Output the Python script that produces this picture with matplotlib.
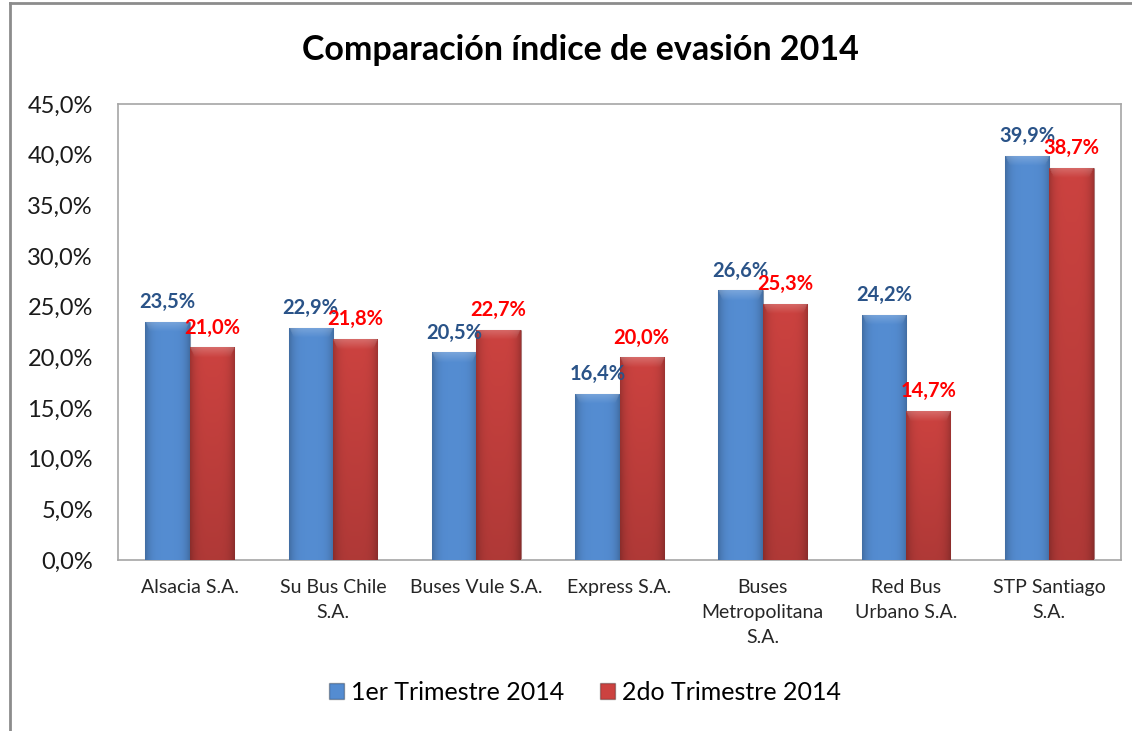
import numpy as np
import matplotlib
matplotlib.use("Agg")
import matplotlib.pyplot as plt
from matplotlib.lines import Line2D
from matplotlib.patches import Patch

categories = ["Alsacia S.A.", "Su Bus Chile\nS.A.", "Buses Vule S.A.", "Express S.A.",
              "Buses\nMetropolitana\nS.A.", "Red Bus\nUrbano S.A.", "STP Santiago\nS.A."]
q1 = [23.5, 22.9, 20.5, 16.4, 26.6, 24.2, 39.9]
q2 = [21.0, 21.8, 22.7, 20.0, 25.3, 14.7, 38.7]
series_names = ["1er Trimestre 2014", "2do Trimestre 2014"]
yticks = [0, 5, 10, 15, 20, 25, 30, 35, 40, 45]
title = "Comparación índice de evasión 2014"

plt.rcParams['font.family'] = ['Lato', 'DejaVu Sans']

W, H = 1132, 731
fig = plt.figure(figsize=(W / 100, H / 100), dpi=100)
ax = fig.add_axes([118 / W, 1 - 560 / H, (1121 - 118) / W, (560 - 104) / H])

x = np.arange(len(categories))
bw = 0.31
base_cols = [np.array([0.33, 0.55, 0.82]), np.array([0.80, 0.26, 0.25])]
bars1 = ax.bar(x - bw / 2, q1, bw, color=base_cols[0], zorder=2)
bars2 = ax.bar(x + bw / 2, q2, bw, color=base_cols[1], zorder=2)

ax.set_xlim(-0.5, len(categories) - 0.5)
ax.set_ylim(0, 45)


def shade(bars, col, vertical_dark):
    for b in bars:
        x0, y0 = b.get_x(), b.get_y()
        w, h = b.get_width(), b.get_height()
        nx, ny = 60, 400
        u = np.linspace(0, 1, nx)[None, :]
        v = np.linspace(0, 1, ny)[:, None]  # 0 bottom, 1 top
        prof = 1.0 - 0.22 * (np.abs(u - 0.5) * 2) ** 4
        fac = prof * np.ones((ny, 1))
        if vertical_dark:
            fac = fac * (0.86 + 0.14 * v)
        img = np.ones((ny, nx, 3)) * col * fac[..., None]
        dist_top = (1 - v) * h
        dist_side = np.minimum(u, 1 - u) * w / 0.031
        bevel = np.clip(1 - dist_top / 1.0, 0, 1) * (dist_side > dist_top)
        light = 0.22 * bevel
        img = img + light[..., None] * (1 - img)
        img = np.clip(img, 0, 1)
        im = ax.imshow(img, extent=(x0, x0 + w, y0, y0 + h), origin='lower',
                       aspect='auto', zorder=3, interpolation='bilinear')
        im.set_clip_path(b)
        b.set_edgecolor((0, 0, 0, 0.25))
        b.set_linewidth(0.8)


shade(bars1, base_cols[0], False)
shade(bars2, base_cols[1], True)
ax.set_xlim(-0.5, len(categories) - 0.5)
ax.set_ylim(0, 45)


def fmt(v):
    return f"{v:.1f}%".replace(".", ",")


for b, v in zip(bars1, q1):
    ax.annotate(fmt(v), (b.get_x() + b.get_width() / 2, v), xytext=(0, 7),
                textcoords='offset points', ha='center', va='bottom',
                fontsize=14.5, fontweight='bold', color='#2A5388', zorder=5)
for b, v in zip(bars2, q2):
    ax.annotate(fmt(v), (b.get_x() + b.get_width() / 2, v), xytext=(0, 7),
                textcoords='offset points', ha='center', va='bottom',
                fontsize=14.5, fontweight='bold', color='#FF0000', zorder=5)

ax.set_yticks(yticks)
ax.set_yticklabels([f"{t:.1f}%".replace(".", ",") for t in yticks], fontsize=17, color='#1a1a1a')
ax.set_xticks(x)
ax.set_xticklabels(categories, fontsize=14, color='#262626', linespacing=1.55, va='top')
ax.tick_params(axis='both', length=0)
ax.tick_params(axis='y', pad=18)
ax.tick_params(axis='x', pad=14)
for s in ax.spines.values():
    s.set_color('#a6a6a6')
    s.set_linewidth(1.2)

fig.text(580 / W, 1 - 50 / H, title, ha='center', va='center', fontsize=24.5,
         fontweight='bold', color='black')

handles = [Patch(facecolor=base_cols[0], edgecolor=(0, 0, 0, 0.3)),
           Patch(facecolor=base_cols[1], edgecolor=(0, 0, 0, 0.3))]
fig.legend(handles, series_names, loc='center', bbox_to_anchor=(585 / W, 1 - 692 / H),
           ncol=2, frameon=False, fontsize=18, handlelength=0.6, handleheight=0.6,
           handletextpad=0.3, columnspacing=1.4)

fig.add_artist(Line2D([10 / W, 10 / W], [0, 1 - 3 / H], transform=fig.transFigure,
                      color='#8c8c8c', linewidth=2))
fig.add_artist(Line2D([10 / W, 1], [1 - 3 / H, 1 - 3 / H], transform=fig.transFigure,
                      color='#8c8c8c', linewidth=2))

fig.savefig("out.png", dpi=100)
